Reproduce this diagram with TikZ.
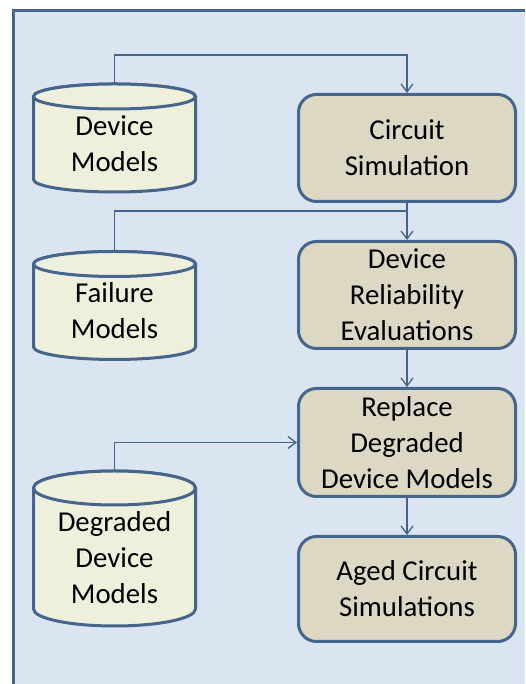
\documentclass[tikz,border=0pt]{standalone}
\usepackage{fontspec}
\setmainfont{Carlito}
\usetikzlibrary{arrows.meta}
\definecolor{bgblue}{HTML}{DBE5F1}
\definecolor{edge}{HTML}{45658D}
\definecolor{conn}{HTML}{44648C}
\definecolor{tan}{HTML}{DDD8C3}
\definecolor{cream}{HTML}{EEF0DC}
\tikzset{
  procbox/.style={draw=edge, line width=3pt, fill=tan, rounded corners=18pt,
    minimum width=217pt, minimum height=107pt, align=center, inner sep=0pt,
    font=\fontsize{28.8}{36}\selectfont},
  cyltext/.style={align=center, inner sep=0pt, font=\fontsize{28.8}{36}\selectfont},
  cylshape/.style={draw=edge, line width=3pt, fill=cream},
  conn/.style={draw=conn, line width=1.3pt},
  carrow/.style={conn, -{Straight Barb[length=8pt,width=12pt,line width=1.3pt]}},
}
\begin{document}
\begin{tikzpicture}[x=1pt,y=1pt]
\useasboundingbox (0,0) rectangle (525,684);
% frame
\fill[bgblue] (12,0) rectangle (525,675);
\draw[edge, line width=3pt] (13.5,0) -- (13.5,673.5) -- (525,673.5);

% Device Models cylinder
\path[cylshape] (33.5,587.5) -- (33.5,504.5) arc[start angle=180,end angle=360,x radius=81,y radius=12.5] -- (195.5,587.5) arc[start angle=0,end angle=180,x radius=81,y radius=12.5] -- cycle;
\draw[cylshape] (114.5,587.5) ellipse[x radius=81,y radius=12.5];
\node[cyltext] (dm) at (114.5,540) {Device\\Models};
\coordinate (dmtop) at (114.5,600);

% Failure Models cylinder
\path[cylshape] (33.5,420) -- (33.5,337) arc[start angle=180,end angle=360,x radius=81,y radius=12.5] -- (195.5,420) arc[start angle=0,end angle=180,x radius=81,y radius=12.5] -- cycle;
\draw[cylshape] (114.5,420) ellipse[x radius=81,y radius=12.5];
\node[cyltext] (fm) at (114.5,373) {Failure\\Models};
\coordinate (fmtop) at (114.5,432.5);

% Degraded Device Models cylinder
\path[cylshape] (33.5,196) -- (33.5,75) arc[start angle=180,end angle=360,x radius=81,y radius=17] -- (195.5,196) arc[start angle=0,end angle=180,x radius=81,y radius=17] -- cycle;
\draw[cylshape] (114.5,196) ellipse[x radius=81,y radius=17];
\node[cyltext] (ddm) at (114.5,126) {Degraded\\Device\\Models};
\coordinate (ddmtop) at (114.5,213);

% process boxes
\node[procbox] (cs) at (407,536) {Circuit\\Simulation};
\node[procbox] (dre) at (407,389) {Device\\Reliability\\Evaluations};
\node[procbox, minimum height=108pt] (rdm) at (407,241.5) {Replace\\Degraded\\Device Models};
\node[procbox, minimum height=105pt] (acs) at (407,95) {Aged Circuit\\Simulations};

% connectors
\coordinate (j1) at (407,629);
\coordinate (j2) at (407,473);
\draw[carrow] (dmtop) |- (j1) -- (cs.north);
\draw[conn] (fmtop) |- (j2);
\draw[carrow] (cs.south) -- (dre.north);
\draw[carrow] (dre.south) -- (rdm.north);
\draw[carrow] (ddmtop) |- (rdm.west);
\draw[carrow] (rdm.south) -- (acs.north);
\end{tikzpicture}
\end{document}
